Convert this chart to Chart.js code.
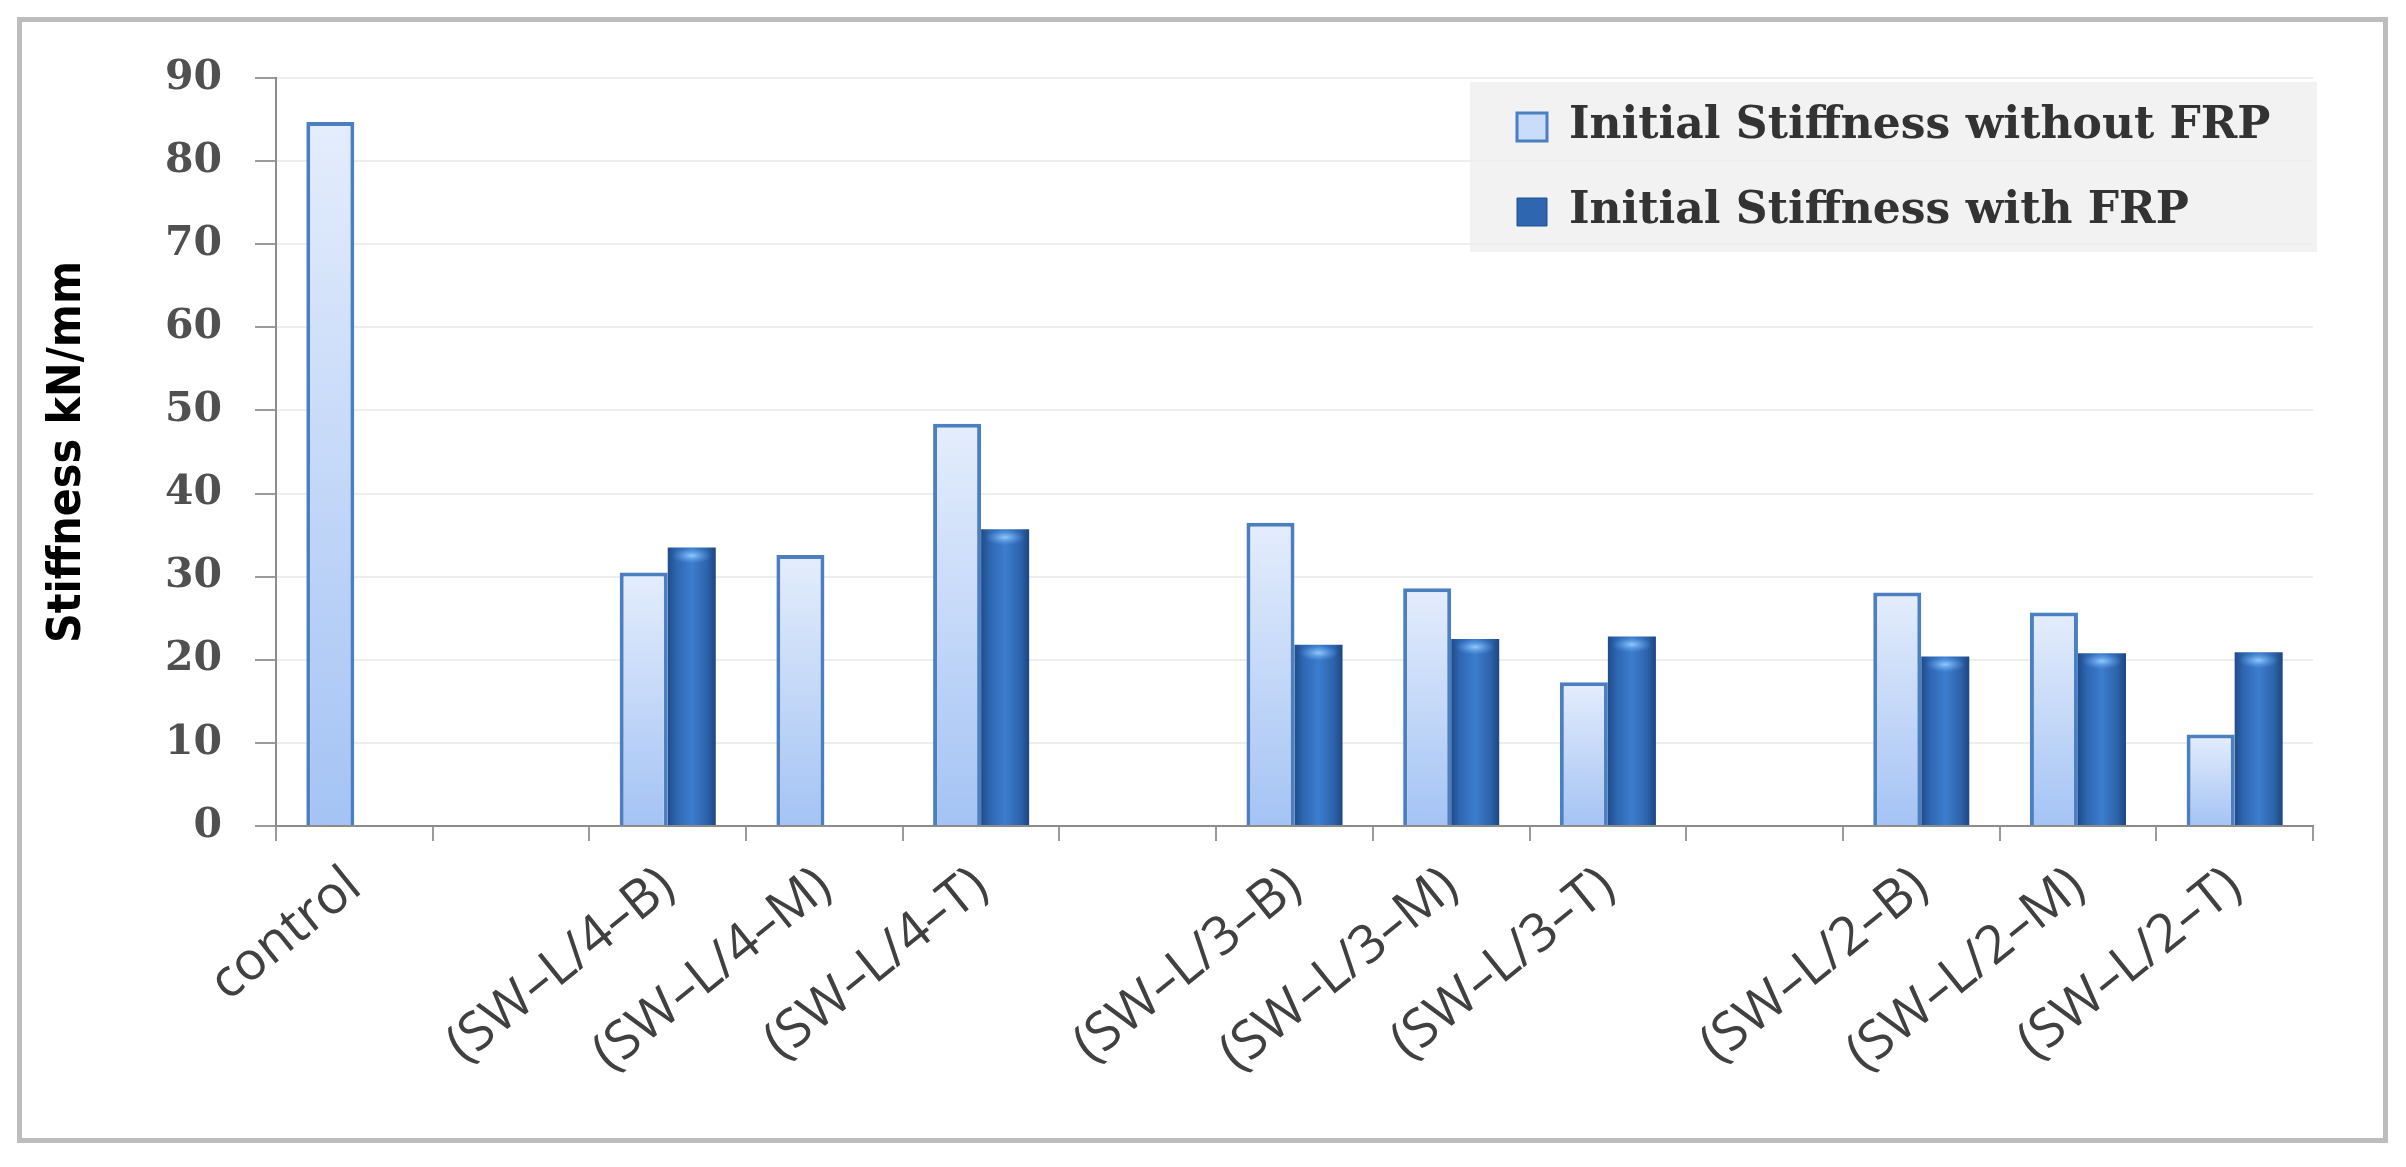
<!DOCTYPE html>
<html>
<head>
<meta charset="utf-8">
<title>Initial stiffness</title>
<script src="https://cdn.jsdelivr.net/npm/chart.js@4.4.1/dist/chart.umd.min.js"></script>
<style>
    html, body { margin: 0; padding: 0; background: #fff; }
    body { width: 2406px; height: 1167px; position: relative; overflow: hidden; }
    #frame {
        position: absolute; left: 17px; top: 17px;
        width: 2361px; height: 1116px;
        border: 5px solid #bdbdbd;
    }
    #stiffnessChart { position: absolute; left: 0; top: 0; }
</style>
</head>
<body>
<div id="frame"></div>
<canvas id="stiffnessChart" width="2406" height="1167"></canvas>
<script>
const categories = ['control', '', '(SW–L/4–B)', '(SW–L/4–M)', '(SW–L/4–T)', '',
    '(SW–L/3–B)', '(SW–L/3–M)', '(SW–L/3–T)', '', '(SW–L/2–B)', '(SW–L/2–M)', '(SW–L/2–T)'];
const withoutFrp = [84.7, null, 30.5, 32.6, 48.4, null, 36.5, 28.6, 17.3, null, 28.1, 25.7, 11.0];
const withFrp = [null, null, 33.5, null, 35.7, null, 21.8, 22.5, 22.8, null, 20.4, 20.8, 20.9];
const yTicks = [0, 10, 20, 30, 40, 50, 60, 70, 80, 90];
const seriesNames = ['Initial Stiffness without FRP', 'Initial Stiffness with FRP'];
const axisTitle = 'Stiffness kN/mm';

const CAT_PCT = 0.613;

document.addEventListener('DOMContentLoaded', () => {
    drawStiffnessChart();
});

// pixel box of one bar, taken from the chart's own scales
function barBox(ctx) {
    const { chart, dataIndex, datasetIndex } = ctx;
    const xs = chart.scales.x;
    const ys = chart.scales.y;
    const step = xs.getPixelForValue(1) - xs.getPixelForValue(0);
    const w = step * CAT_PCT / 2;
    const cx = xs.getPixelForValue(dataIndex);
    const left = datasetIndex === 0 ? cx - w : cx;
    const value = chart.data.datasets[datasetIndex].data[dataIndex] || 0;
    return { left, right: left + w, top: ys.getPixelForValue(value), bottom: ys.getPixelForValue(0) };
}

function okBox(b) {
    return [b.left, b.right, b.top, b.bottom].every(Number.isFinite) && b.right - b.left > 1 && b.bottom - b.top > 1;
}

function lightFill(ctx) {
    if (ctx.type !== 'data') return '#c6daf8';
    const b = barBox(ctx);
    if (!okBox(b)) return '#c6daf8';
    const g = ctx.chart.ctx.createLinearGradient(0, b.top, 0, b.bottom);
    g.addColorStop(0, '#e4edfc');
    g.addColorStop(1, '#a4c3f4');
    return g;
}

function darkFill(ctx) {
    if (ctx.type !== 'data') return '#2e66b0';
    const b = barBox(ctx);
    if (!okBox(b)) return '#2e66b0';
    const g = ctx.chart.ctx.createLinearGradient(b.left, 0, b.right, 0);
    g.addColorStop(0, '#1f4c8a');
    g.addColorStop(0.18, '#2e66b0');
    g.addColorStop(0.5, '#3c7dcf');
    g.addColorStop(0.82, '#2d63aa');
    g.addColorStop(1, '#1c4680');
    return g;
}

// legend sits inside the plot, on a light grey panel
const legendPanel = {
    id: 'legendPanel',
    afterLayout(chart) {
        chart.legend.left = 1476;
        chart.legend.top = 64;
    },
    beforeDraw(chart) {
        const c = chart.ctx;
        c.save();
        c.fillStyle = '#f2f2f2';
        c.fillRect(1470, 82, 847, 170);
        c.restore();
    }
};

// lighter cap on top of the dark bars
const barCaps = {
    id: 'barCaps',
    afterDatasetsDraw(chart) {
        const c = chart.ctx;
        chart.getDatasetMeta(1).data.forEach((bar, i) => {
            if (withFrp[i] == null) return;
            const { x, y, width } = bar.getProps(['x', 'y', 'width'], true);
            const r = width / 2 - 4;
            c.save();
            c.translate(x, y + 8);
            c.scale(1, 0.4);
            const g = c.createRadialGradient(0, 0, 0, 0, 0, r);
            g.addColorStop(0, 'rgba(150,205,255,0.95)');
            g.addColorStop(1, 'rgba(90,160,235,0)');
            c.fillStyle = g;
            c.beginPath();
            c.arc(0, 0, r, 0, Math.PI * 2);
            c.fill();
            c.restore();
        });
    }
};

function drawStiffnessChart() {
    const ctx = document.getElementById('stiffnessChart').getContext('2d');
    new Chart(ctx, {
        type: 'bar',
        data: {
            labels: categories,
            datasets: [{
                label: seriesNames[0],
                data: withoutFrp,
                backgroundColor: lightFill,
                borderColor: '#4b7fc0',
                borderWidth: 4
            }, {
                label: seriesNames[1],
                data: withFrp,
                backgroundColor: darkFill,
                borderWidth: 0
            }]
        },
        options: {
            responsive: false,
            animation: false,
            devicePixelRatio: 1,
            categoryPercentage: CAT_PCT,
            barPercentage: 1,
            layout: { padding: { left: 40, top: 78, right: 93, bottom: 0 } },
            plugins: {
                tooltip: { enabled: false },
                legend: {
                    position: 'chartArea',
                    align: 'start',
                    labels: {
                        boxWidth: 30,
                        boxHeight: 28,
                        padding: 41,
                        color: '#333',
                        font: { family: "'DejaVu Serif', serif", weight: 'bold', size: 44 },
                        generateLabels: chart => chart.data.datasets.map((ds, i) => ({
                            text: ds.label,
                            fillStyle: i ? '#2e66b0' : '#c9dcf8',
                            strokeStyle: i ? '#1f4f8f' : '#4b7fc0',
                            lineWidth: i ? 1 : 3,
                            fontColor: '#333',
                            hidden: false,
                            datasetIndex: i
                        }))
                    }
                }
            },
            scales: {
                x: {
                    afterFit: s => { s.height = 341; },
                    grid: { drawOnChartArea: false, tickLength: 15, tickColor: '#9a9a9a', lineWidth: 2 },
                    border: { color: '#8c8c8c', width: 2 },
                    ticks: {
                        autoSkip: false,
                        minRotation: 39,
                        maxRotation: 39,
                        padding: 14,
                        color: '#404040',
                        font: { family: "'Open Sans', sans-serif", size: 53 }
                    }
                },
                y: {
                    min: 0,
                    max: 90,
                    afterFit: s => { s.width = 236; },
                    afterBuildTicks: s => { s.ticks = yTicks.map(v => ({ value: v })); },
                    grid: { color: '#eeeeee', lineWidth: 2, tickLength: 21, tickColor: '#9a9a9a' },
                    border: { color: '#8c8c8c', width: 2 },
                    ticks: {
                        padding: 33,
                        color: '#505050',
                        font: { family: "'DejaVu Serif', serif", weight: 'bold', size: 41 }
                    },
                    title: {
                        display: true,
                        text: axisTitle,
                        color: '#000',
                        padding: 0,
                        font: { family: "'Liberation Sans Narrow', 'DejaVu Sans Condensed', sans-serif", weight: 'bold', size: 46 }
                    }
                }
            }
        },
        plugins: [legendPanel, barCaps]
    });
}
</script>
</body>
</html>
